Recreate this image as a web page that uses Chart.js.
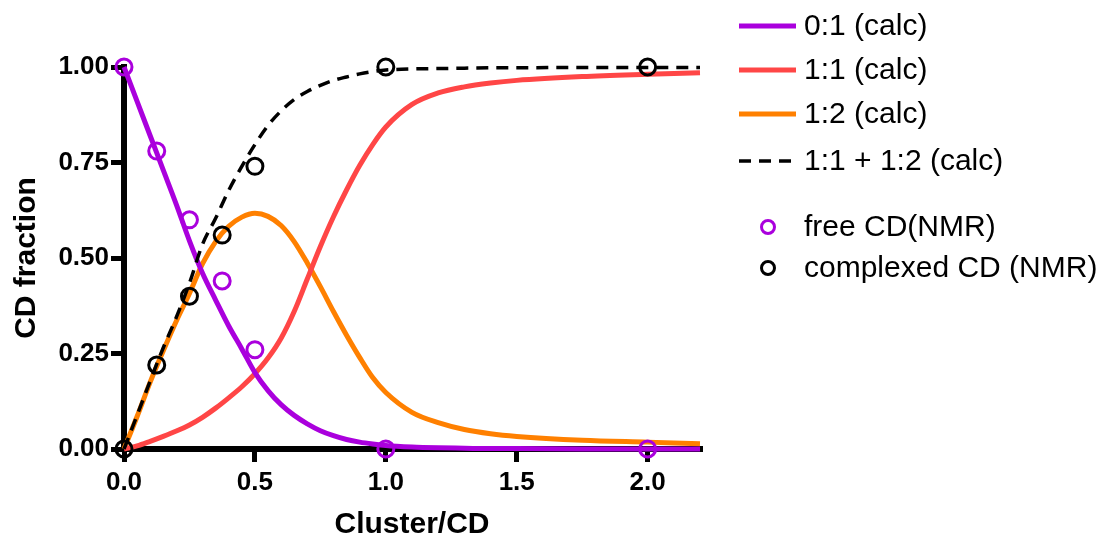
<!DOCTYPE html>
<html>
<head>
<meta charset="utf-8">
<script src="https://cdn.jsdelivr.net/npm/chart.js@4"></script>
<style>
  body { margin: 0; background: #fff; }
</style>
</head>
<body>
<canvas id="fractionChart" width="1109" height="540"></canvas>
<script>
// calculated curves
const xCalc = [0, 0.05, 0.1, 0.15, 0.2, 0.25, 0.3, 0.35, 0.4, 0.45, 0.5, 0.55, 0.6, 0.65, 0.7, 0.75, 0.8, 0.85, 0.9, 0.95, 1.0, 1.1, 1.2, 1.3, 1.4, 1.5, 1.75, 2.0, 2.2];
const calc01 = [1.0, 0.91, 0.82, 0.73, 0.64, 0.545, 0.46, 0.39, 0.322, 0.262, 0.20, 0.153, 0.116, 0.088, 0.066, 0.048, 0.035, 0.025, 0.018, 0.013, 0.009, 0.005, 0.003, 0.002, 0.001, 0.001, 0.0, 0.0, 0.0];
const calc11 = [0, 0.008, 0.02, 0.033, 0.047, 0.063, 0.083, 0.107, 0.134, 0.163, 0.197, 0.238, 0.29, 0.36, 0.445, 0.53, 0.608, 0.678, 0.742, 0.797, 0.843, 0.902, 0.932, 0.948, 0.958, 0.965, 0.975, 0.981, 0.985];
const calc12 = [0, 0.085, 0.175, 0.257, 0.335, 0.407, 0.485, 0.543, 0.583, 0.607, 0.617, 0.609, 0.585, 0.543, 0.487, 0.425, 0.36, 0.298, 0.24, 0.187, 0.148, 0.096, 0.069, 0.051, 0.04, 0.033, 0.023, 0.018, 0.014];
const calcSum = [0, 0.088, 0.178, 0.265, 0.345, 0.434, 0.536, 0.604, 0.677, 0.74, 0.797, 0.847, 0.885, 0.915, 0.936, 0.952, 0.965, 0.974, 0.982, 0.988, 0.992, 0.995, 0.996, 0.997, 0.998, 0.998, 0.999, 0.999, 0.999];

// NMR measurements
const xNmr = [0, 0.125, 0.25, 0.375, 0.5, 1.0, 2.0];
const freeNmr = [1.0, 0.78, 0.60, 0.44, 0.26, 0.0, 0.0];
const complexedNmr = [0.0, 0.22, 0.40, 0.56, 0.74, 1.0, 1.0];

const xTicks = [0, 0.5, 1.0, 1.5, 2.0];
const yTicks = [0, 0.25, 0.5, 0.75, 1.0];

const labels = ['0:1 (calc)', '1:1 (calc)', '1:2 (calc)', '1:1 + 1:2 (calc)', 'free CD(NMR)', 'complexed CD (NMR)'];

const purple = '#AA00DD';
const red = '#FF4646';
const orange = '#FF8000';
const fontFamily = "'Liberation Sans', Arial, sans-serif";

Chart.defaults.font.family = fontFamily;
Chart.defaults.color = '#000';

const toPoints = (xs, ys) => xs.map((x, i) => ({ x: x, y: ys[i] }));

const curve = (label, ys, color, order) => ({
  label: label,
  data: toPoints(xCalc, ys),
  showLine: true,
  borderColor: color,
  borderWidth: 5,
  pointRadius: 0,
  cubicInterpolationMode: 'monotone',
  clip: false,
  order: order
});

const markers = (label, ys, color) => ({
  label: label,
  data: toPoints(xNmr, ys),
  showLine: false,
  pointStyle: 'circle',
  pointRadius: 8,
  pointBorderWidth: 3,
  borderColor: color,
  backgroundColor: 'transparent',
  clip: false,
  order: 0
});

const dashed = curve(labels[3], calcSum, '#000', 1);
dashed.borderWidth = 3.5;
dashed.borderDash = [12, 8];

// legend drawn at the right, with a gap before the NMR markers
const legendRows = [26, 70, 114, 161, 227, 268];
const sideLegend = {
  id: 'sideLegend',
  afterDraw(chart) {
    const ctx = chart.ctx;
    ctx.save();
    ctx.font = '30px ' + fontFamily;
    ctx.textBaseline = 'middle';
    chart.data.datasets.forEach((ds, i) => {
      const y = legendRows[i];
      ctx.strokeStyle = ds.borderColor;
      if (ds.showLine) {
        ctx.lineWidth = ds.borderWidth;
        ctx.setLineDash(ds.borderDash || []);
        ctx.beginPath();
        ctx.moveTo(739, y);
        ctx.lineTo(796, y);
        ctx.stroke();
      } else {
        ctx.setLineDash([]);
        ctx.lineWidth = ds.pointBorderWidth;
        ctx.beginPath();
        ctx.arc(768, y, 6.5, 0, Math.PI * 2);
        ctx.stroke();
      }
      ctx.fillStyle = '#000';
      ctx.fillText(ds.label, 804, y + 1);
    });
    ctx.restore();
  }
};

const axisGrid = {
  drawOnChartArea: false,
  drawTicks: true,
  tickLength: 13,
  tickWidth: 5,
  tickColor: '#000',
  lineWidth: 5,
  color: '#000'
};

new Chart(document.getElementById('fractionChart'), {
  type: 'scatter',
  data: {
    datasets: [
      curve(labels[0], calc01, purple, 2),
      curve(labels[1], calc11, red, 2),
      curve(labels[2], calc12, orange, 2),
      dashed,
      markers(labels[4], freeNmr, purple),
      markers(labels[5], complexedNmr, '#000')
    ]
  },
  options: {
    responsive: false,
    animation: false,
    layout: { padding: { top: 67, right: 409, left: 0, bottom: 0 } },
    plugins: {
      legend: { display: false },
      tooltip: { enabled: false }
    },
    scales: {
      x: {
        type: 'linear',
        min: 0,
        max: 2.2,
        afterBuildTicks: s => { s.ticks = xTicks.map(v => ({ value: v })); },
        afterFit: s => { s.height = 91; },
        ticks: {
          callback: v => v.toFixed(1),
          font: { size: 26, weight: 'bold' },
          color: '#000',
          padding: 5,
          maxRotation: 0
        },
        grid: axisGrid,
        border: { display: true, width: 6, color: '#000' },
        title: {
          display: true,
          text: 'Cluster/CD',
          font: { size: 30, weight: 'bold', lineHeight: 1 },
          color: '#000',
          padding: { top: 0, bottom: 0 }
        }
      },
      y: {
        type: 'linear',
        min: 0,
        max: 1,
        afterBuildTicks: s => { s.ticks = yTicks.map(v => ({ value: v })); },
        afterFit: s => { s.width = 124; },
        ticks: {
          callback: v => v.toFixed(2),
          font: { size: 26, weight: 'bold' },
          color: '#000',
          padding: 2
        },
        grid: axisGrid,
        border: { display: true, width: 6, color: '#000' },
        title: {
          display: true,
          text: 'CD fraction',
          font: { size: 30, weight: 'bold', lineHeight: 1 },
          color: '#000',
          padding: { top: 12, bottom: 0 }
        }
      }
    }
  },
  plugins: [sideLegend]
});
</script>
</body>
</html>
